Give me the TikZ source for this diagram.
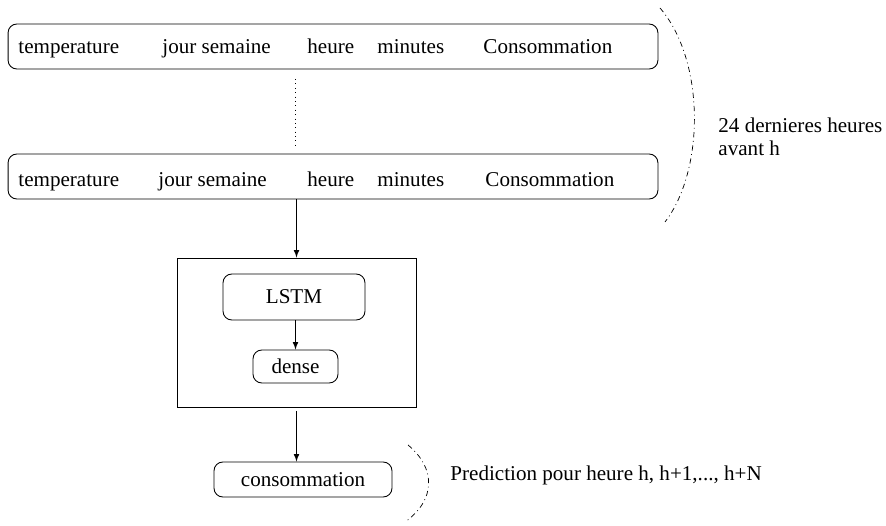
\documentclass[tikz,border=0pt]{standalone}
\usepackage{fontspec}
\setmainfont{Liberation Serif}
\usetikzlibrary{positioning}
\begin{document}
\begin{tikzpicture}[x=0.02cm, y=-0.02cm, font=\fontsize{12}{13.5}\selectfont,
    row/.style={draw, rounded corners=5pt, minimum width=13cm, minimum height=0.9cm, inner sep=0pt},
    field/.style={anchor=base west, inner sep=0pt},
    layer/.style={draw, rounded corners=5pt, inner sep=0pt},
    brace/.style={dash dot, line width=0.4pt},
    every path/.style={line width=0.5pt}]
    \useasboundingbox (0,0) rectangle (886,526);
    % input rows
    \node[row] (first) at (333, 46.5) {};
    \node[row] (last)  at (333,176.5) {};
    \node(t1) at ( 18, 54) [field] {temperature};
    \node(j1) at (162, 54) [field] {jour semaine};
    \node(h1) at (307, 54) [field] {heure};
    \node(m1) at (377, 54) [field] {minutes};
    \node(c1) at (483, 54) [field] {Consommation};
    \node(t2) at ( 18,187) [field] {temperature};
    \node(j2) at (158,187) [field] {jour semaine};
    \node(h2) at (307,187) [field] {heure};
    \node(m2) at (377,187) [field] {minutes};
    \node(c2) at (485,187) [field] {Consommation};
    \draw[dotted] (295,79) -- (295,145);
    \draw[brace] (660,8) .. controls (705,60) and (705,170) .. (665,222);
    \node(window) at (718,156) [field, align=left] {24 dernieres heures\\avant h};
    % model
    \node[draw, minimum width=4.78cm, minimum height=2.98cm, inner sep=0pt] (model) at (296.5,332.5) {};
    \node[layer, minimum width=2.84cm, minimum height=0.92cm] (lstm)  at (294,297)   {LSTM};
    \node[layer, minimum width=1.7cm,  minimum height=0.66cm] (dense) at (295.5,366.5) {dense};
    \node[layer, minimum width=3.56cm, minimum height=0.7cm]  (conso) at (303,479.5) {consommation};
    \draw[-latex] (model.north |- last.south) -- (model.north);
    \draw[-latex] (dense.north |- lstm.south) -- (dense.north);
    \draw[-latex, shorten <=2pt] (model.south) -- (model.south |- conso.north);
    \draw[brace] (408,445) .. controls (436,468) and (436,500) .. (405,522);
    \node(pred) at (450,481) [field] {Prediction pour heure h, h+1,..., h+N};
\end{tikzpicture}
\end{document}
